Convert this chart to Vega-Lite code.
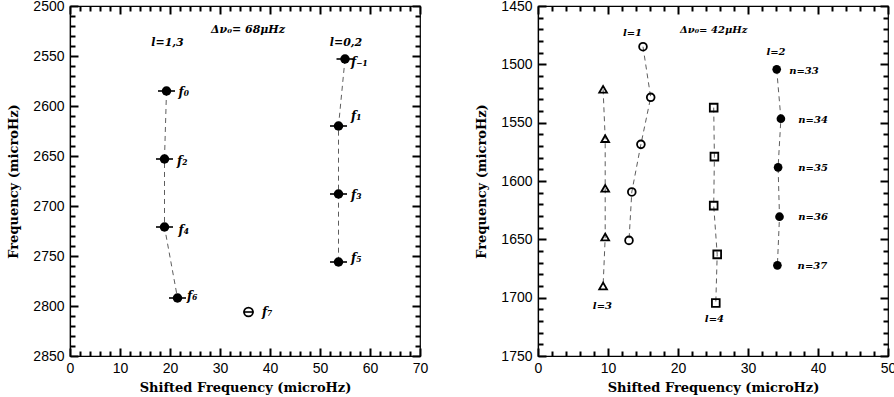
{
  "$schema": "https://vega.github.io/schema/vega-lite/v6.json",
  "background": "white",
  "padding": {"left": 7, "top": -2, "right": 5, "bottom": 0},
  "config": {
    "view": {"stroke": "black", "strokeWidth": 1.2},
    "axis": {
      "domainColor": "black", "domainWidth": 1.2, "labelColor": "black", "titleColor": "black",
      "labelFont": "Liberation Sans", "labelFontSize": 14,
      "titleFont": "DejaVu Serif", "titleFontWeight": "bold", "titleFontSize": 13,
      "grid": false, "labelOverlap": false, "labelFlush": false, "format": "d",
      "tickColor": "#000000", "tickWidth": 2, "tickOpacity": 1
    }
  },
  "datasets": {
    "left": [
      {"x": 19.3, "y": 2585, "seq": "a", "filled": 1, "err": 1.7},
      {"x": 18.9, "y": 2653, "seq": "a", "filled": 1, "err": 1.7},
      {"x": 18.9, "y": 2721, "seq": "a", "filled": 1, "err": 1.7},
      {"x": 21.5, "y": 2792, "seq": "a", "filled": 1, "err": 1.7},
      {"x": 55.0, "y": 2553, "seq": "b", "filled": 1, "err": 1.7},
      {"x": 53.7, "y": 2620, "seq": "b", "filled": 1, "err": 1.7},
      {"x": 53.7, "y": 2688, "seq": "b", "filled": 1, "err": 1.7},
      {"x": 53.7, "y": 2756, "seq": "b", "filled": 1, "err": 1.7},
      {"x": 35.7, "y": 2806, "seq": "c", "filled": 0, "err": 1.0}
    ],
    "leftText": [
      {"x": 21.7, "y": 2586, "t": "f₀"},
      {"x": 21.4, "y": 2655, "t": "f₂"},
      {"x": 21.7, "y": 2724, "t": "f₄"},
      {"x": 23.4, "y": 2790, "t": "f₆"},
      {"x": 38.4, "y": 2806, "t": "f₇"},
      {"x": 56.2, "y": 2556, "t": "f₋₁"},
      {"x": 56.2, "y": 2610, "t": "f₁"},
      {"x": 56.2, "y": 2689, "t": "f₃"},
      {"x": 56.2, "y": 2752, "t": "f₅"}
    ],
    "leftTitles": [
      {"x": 19.5, "y": 2537, "t": "l=1,3"},
      {"x": 55.2, "y": 2537, "t": "l=0,2"},
      {"x": 35.6, "y": 2524, "t": "Δν₀=  68μHz"}
    ],
    "right": [
      {"x": 9.3, "y": 1521.4, "l": "l3"},
      {"x": 9.6, "y": 1563.7, "l": "l3"},
      {"x": 9.6, "y": 1606.3, "l": "l3"},
      {"x": 9.6, "y": 1648.0, "l": "l3"},
      {"x": 9.3, "y": 1690.0, "l": "l3"},
      {"x": 15.0, "y": 1484.9, "l": "l1"},
      {"x": 16.1, "y": 1528.3, "l": "l1"},
      {"x": 14.7, "y": 1568.6, "l": "l1"},
      {"x": 13.4, "y": 1609.4, "l": "l1"},
      {"x": 13.0, "y": 1650.9, "l": "l1"},
      {"x": 25.1, "y": 1537.1, "l": "l4"},
      {"x": 25.2, "y": 1579.1, "l": "l4"},
      {"x": 25.1, "y": 1621.1, "l": "l4"},
      {"x": 25.6, "y": 1662.9, "l": "l4"},
      {"x": 25.4, "y": 1704.6, "l": "l4"},
      {"x": 34.1, "y": 1504.3, "l": "l2"},
      {"x": 34.7, "y": 1546.6, "l": "l2"},
      {"x": 34.3, "y": 1588.3, "l": "l2"},
      {"x": 34.5, "y": 1630.6, "l": "l2"},
      {"x": 34.2, "y": 1672.3, "l": "l2"}
    ],
    "rightText": [
      {"x": 13.5, "y": 1473.4, "t": "l=1"},
      {"x": 34.0, "y": 1489.4, "t": "l=2"},
      {"x": 9.2, "y": 1707.0, "t": "l=3"},
      {"x": 25.2, "y": 1718.6, "t": "l=4"},
      {"x": 25.1, "y": 1470.9, "t": "Δν₀=  42μHz"},
      {"x": 38.0, "y": 1505.5, "t": "n=33"},
      {"x": 39.3, "y": 1547.5, "t": "n=34"},
      {"x": 39.3, "y": 1589.0, "t": "n=35"},
      {"x": 39.3, "y": 1631.0, "t": "n=36"},
      {"x": 39.2, "y": 1672.8, "t": "n=37"}
    ]
  },
  "spacing": 46,
  "hconcat": [
    {
      "width": 350, "height": 350,
      "resolve": {"axis": {"x": "independent", "y": "independent"}},
      "layer": [
        {
          "data": {"name": "left"},
          "transform": [{"filter": "datum.seq !== 'c'"}],
          "mark": {"type": "line", "color": "#333", "strokeWidth": 0.8, "strokeDash": [5, 4]},
          "encoding": {
            "x": {"field": "x", "type": "quantitative",
              "scale": {"domain": [0, 70], "nice": false, "zero": false},
              "axis": {"orient": "bottom", "title": "Shifted Frequency (microHz)", "titlePadding": 6,
                "values": [0, 10, 20, 30, 40, 50, 60, 70], "ticks": false, "labelPadding": 5}},
            "y": {"field": "y", "type": "quantitative",
              "scale": {"domain": [2500, 2850], "nice": false, "zero": false, "reverse": true},
              "axis": {"orient": "left", "title": "Frequency (microHz)", "titlePadding": 12,
                "values": [2500, 2550, 2600, 2650, 2700, 2750, 2800, 2850], "ticks": false, "labelPadding": 6}},
            "detail": {"field": "seq"},
            "order": {"field": "y"}
          }
        },
        {
          "data": {"name": "left"},
          "mark": {"type": "point", "opacity": 0},
          "encoding": {
            "x": {"field": "x", "type": "quantitative",
              "axis": {"orient": "bottom", "title": null, "labels": false, "domain": false, "ticks": true, "tickSize": 8, "offset": -8, "tickColor": "#000000", "tickWidth": 2,
                "values": [0, 10, 20, 30, 40, 50, 60, 70]}},
            "y": {"field": "y", "type": "quantitative",
              "axis": {"orient": "left", "title": null, "labels": false, "domain": false, "ticks": true, "tickSize": 8, "offset": -8, "tickColor": "#000000", "tickWidth": 2,
                "values": [2500, 2550, 2600, 2650, 2700, 2750, 2800, 2850]}}
          }
        },
        {
          "data": {"name": "left"},
          "mark": {"type": "point", "opacity": 0},
          "encoding": {
            "x": {"field": "x", "type": "quantitative",
              "axis": {"orient": "bottom", "title": null, "labels": false, "domain": false, "ticks": true, "tickSize": 5, "offset": -5, "tickColor": "#000000", "tickWidth": 2,
                "values": [2,4,6,8,12,14,16,18,22,24,26,28,32,34,36,38,42,44,46,48,52,54,56,58,62,64,66,68]}},
            "y": {"field": "y", "type": "quantitative",
              "axis": {"orient": "left", "title": null, "labels": false, "domain": false, "ticks": true, "tickSize": 5, "offset": -5, "tickColor": "#000000", "tickWidth": 2,
                "values": [2510,2520,2530,2540,2560,2570,2580,2590,2610,2620,2630,2640,2660,2670,2680,2690,2710,2720,2730,2740,2760,2770,2780,2790,2810,2820,2830,2840]}}
          }
        },
        {
          "data": {"name": "left"},
          "mark": {"type": "point", "opacity": 0},
          "encoding": {
            "x": {"field": "x", "type": "quantitative",
              "axis": {"orient": "top", "title": null, "labels": false, "domain": false, "ticks": true, "tickSize": 8, "offset": -8, "tickColor": "#000000", "tickWidth": 2,
                "values": [0, 10, 20, 30, 40, 50, 60, 70]}},
            "y": {"field": "y", "type": "quantitative",
              "axis": {"orient": "right", "title": null, "labels": false, "domain": false, "ticks": true, "tickSize": 8, "offset": -8, "tickColor": "#000000", "tickWidth": 2,
                "values": [2500, 2550, 2600, 2650, 2700, 2750, 2800, 2850]}}
          }
        },
        {
          "data": {"name": "left"},
          "mark": {"type": "point", "opacity": 0},
          "encoding": {
            "x": {"field": "x", "type": "quantitative",
              "axis": {"orient": "top", "title": null, "labels": false, "domain": false, "ticks": true, "tickSize": 5, "offset": -5, "tickColor": "#000000", "tickWidth": 2,
                "values": [2,4,6,8,12,14,16,18,22,24,26,28,32,34,36,38,42,44,46,48,52,54,56,58,62,64,66,68]}},
            "y": {"field": "y", "type": "quantitative",
              "axis": {"orient": "right", "title": null, "labels": false, "domain": false, "ticks": true, "tickSize": 5, "offset": -5, "tickColor": "#000000", "tickWidth": 2,
                "values": [2510,2520,2530,2540,2560,2570,2580,2590,2610,2620,2630,2640,2660,2670,2680,2690,2710,2720,2730,2740,2760,2770,2780,2790,2810,2820,2830,2840]}}
          }
        },
        {
          "data": {"name": "left"},
          "mark": {"type": "errorbar", "orient": "horizontal", "ticks": false, "color": "black", "thickness": 1.6},
          "encoding": {
            "x": {"field": "x", "type": "quantitative", "axis": null},
            "xError": {"field": "err"},
            "y": {"field": "y", "type": "quantitative", "axis": null}
          }
        },
        {
          "data": {"name": "left"},
          "transform": [{"filter": "datum.filled === 1"}],
          "mark": {"type": "point", "shape": "circle", "filled": true, "color": "black", "size": 90, "opacity": 1},
          "encoding": {
            "x": {"field": "x", "type": "quantitative", "axis": null},
            "y": {"field": "y", "type": "quantitative", "axis": null}
          }
        },
        {
          "data": {"name": "left"},
          "transform": [{"filter": "datum.filled === 0"}],
          "mark": {"type": "point", "shape": "circle", "filled": false, "color": "black", "size": 80, "strokeWidth": 1.8, "opacity": 1},
          "encoding": {
            "x": {"field": "x", "type": "quantitative", "axis": null},
            "y": {"field": "y", "type": "quantitative", "axis": null}
          }
        },
        {
          "data": {"name": "leftText"},
          "mark": {"type": "text", "align": "left", "baseline": "middle", "font": "DejaVu Serif", "fontStyle": "italic", "fontWeight": "bold", "fontSize": 12, "color": "black"},
          "encoding": {
            "x": {"field": "x", "type": "quantitative", "axis": null},
            "y": {"field": "y", "type": "quantitative", "axis": null},
            "text": {"field": "t"}
          }
        },
        {
          "data": {"name": "leftTitles"},
          "mark": {"type": "text", "align": "center", "baseline": "middle", "font": "DejaVu Serif", "fontStyle": "italic", "fontWeight": "bold", "fontSize": 11, "color": "black"},
          "encoding": {
            "x": {"field": "x", "type": "quantitative", "axis": null},
            "y": {"field": "y", "type": "quantitative", "axis": null},
            "text": {"field": "t"}
          }
        }
      ]
    },
    {
      "width": 350, "height": 350,
      "resolve": {"axis": {"x": "independent", "y": "independent"}},
      "layer": [
        {
          "data": {"name": "right"},
          "mark": {"type": "line", "color": "#333", "strokeWidth": 0.8, "strokeDash": [5, 4]},
          "encoding": {
            "x": {"field": "x", "type": "quantitative",
              "scale": {"domain": [0, 50], "nice": false, "zero": false},
              "axis": {"orient": "bottom", "title": "Shifted Frequency (microHz)", "titlePadding": 6,
                "values": [0, 10, 20, 30, 40, 50], "ticks": false, "labelPadding": 5}},
            "y": {"field": "y", "type": "quantitative",
              "scale": {"domain": [1450, 1750], "nice": false, "zero": false, "reverse": true},
              "axis": {"orient": "left", "title": "Frequency (microHz)", "titlePadding": 12,
                "values": [1450, 1500, 1550, 1600, 1650, 1700, 1750], "ticks": false, "labelPadding": 6}},
            "detail": {"field": "l"},
            "order": {"field": "y"}
          }
        },
        {
          "data": {"name": "right"},
          "mark": {"type": "point", "opacity": 0},
          "encoding": {
            "x": {"field": "x", "type": "quantitative",
              "axis": {"orient": "bottom", "title": null, "labels": false, "domain": false, "ticks": true, "tickSize": 8, "offset": -8, "tickColor": "#000000", "tickWidth": 2,
                "values": [0, 10, 20, 30, 40, 50]}},
            "y": {"field": "y", "type": "quantitative",
              "axis": {"orient": "left", "title": null, "labels": false, "domain": false, "ticks": true, "tickSize": 8, "offset": -8, "tickColor": "#000000", "tickWidth": 2,
                "values": [1450, 1500, 1550, 1600, 1650, 1700, 1750]}}
          }
        },
        {
          "data": {"name": "right"},
          "mark": {"type": "point", "opacity": 0},
          "encoding": {
            "x": {"field": "x", "type": "quantitative",
              "axis": {"orient": "bottom", "title": null, "labels": false, "domain": false, "ticks": true, "tickSize": 5, "offset": -5, "tickColor": "#000000", "tickWidth": 2,
                "values": [2,4,6,8,12,14,16,18,22,24,26,28,32,34,36,38,42,44,46,48]}},
            "y": {"field": "y", "type": "quantitative",
              "axis": {"orient": "left", "title": null, "labels": false, "domain": false, "ticks": true, "tickSize": 5, "offset": -5, "tickColor": "#000000", "tickWidth": 2,
                "values": [1460,1470,1480,1490,1510,1520,1530,1540,1560,1570,1580,1590,1610,1620,1630,1640,1660,1670,1680,1690,1710,1720,1730,1740]}}
          }
        },
        {
          "data": {"name": "right"},
          "mark": {"type": "point", "opacity": 0},
          "encoding": {
            "x": {"field": "x", "type": "quantitative",
              "axis": {"orient": "top", "title": null, "labels": false, "domain": false, "ticks": true, "tickSize": 8, "offset": -8, "tickColor": "#000000", "tickWidth": 2,
                "values": [0, 10, 20, 30, 40, 50]}},
            "y": {"field": "y", "type": "quantitative",
              "axis": {"orient": "right", "title": null, "labels": false, "domain": false, "ticks": true, "tickSize": 8, "offset": -8, "tickColor": "#000000", "tickWidth": 2,
                "values": [1450, 1500, 1550, 1600, 1650, 1700, 1750]}}
          }
        },
        {
          "data": {"name": "right"},
          "mark": {"type": "point", "opacity": 0},
          "encoding": {
            "x": {"field": "x", "type": "quantitative",
              "axis": {"orient": "top", "title": null, "labels": false, "domain": false, "ticks": true, "tickSize": 5, "offset": -5, "tickColor": "#000000", "tickWidth": 2,
                "values": [2,4,6,8,12,14,16,18,22,24,26,28,32,34,36,38,42,44,46,48]}},
            "y": {"field": "y", "type": "quantitative",
              "axis": {"orient": "right", "title": null, "labels": false, "domain": false, "ticks": true, "tickSize": 5, "offset": -5, "tickColor": "#000000", "tickWidth": 2,
                "values": [1460,1470,1480,1490,1510,1520,1530,1540,1560,1570,1580,1590,1610,1620,1630,1640,1660,1670,1680,1690,1710,1720,1730,1740]}}
          }
        },
        {
          "data": {"name": "right"},
          "transform": [{"filter": "datum.l !== 'l2'"}],
          "mark": {"type": "point", "filled": false, "color": "black", "size": 60, "strokeWidth": 1.8, "opacity": 1},
          "encoding": {
            "x": {"field": "x", "type": "quantitative", "axis": null},
            "y": {"field": "y", "type": "quantitative", "axis": null},
            "shape": {"field": "l", "type": "nominal", "legend": null,
              "scale": {"domain": ["l1", "l3", "l4"], "range": ["circle", "triangle-up", "square"]}}
          }
        },
        {
          "data": {"name": "right"},
          "transform": [{"filter": "datum.l === 'l2'"}],
          "mark": {"type": "point", "shape": "circle", "filled": true, "color": "black", "size": 75, "opacity": 1},
          "encoding": {
            "x": {"field": "x", "type": "quantitative", "axis": null},
            "y": {"field": "y", "type": "quantitative", "axis": null}
          }
        },
        {
          "data": {"name": "rightText"},
          "mark": {"type": "text", "align": "center", "baseline": "middle", "font": "DejaVu Serif", "fontStyle": "italic", "fontWeight": "bold", "fontSize": 10, "color": "black"},
          "encoding": {
            "x": {"field": "x", "type": "quantitative", "axis": null},
            "y": {"field": "y", "type": "quantitative", "axis": null},
            "text": {"field": "t"}
          }
        }
      ]
    }
  ]
}
